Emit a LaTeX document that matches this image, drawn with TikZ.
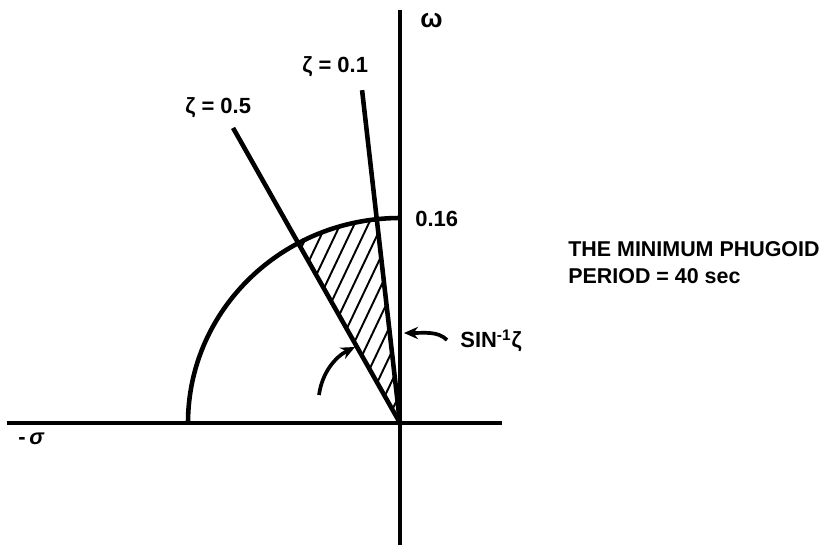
\documentclass[tikz,border=0pt]{standalone}
\usepackage{fontspec}
\setmainfont{Liberation Sans}
\usetikzlibrary{arrows.meta}

\begin{document}
\begin{tikzpicture}[
  x=0.02cm,y=0.02cm,
  font=\bfseries\fontsize{12.5}{15}\selectfont,
  axisline/.style={line width=2pt},
  rayline/.style={line width=2.6pt},
  hatchline/.style={line width=1.1pt},
  pointer/.style={-{Stealth[length=8pt,width=7pt]},line width=2.1pt}
]
  \useasboundingbox (-400,-125) rectangle (428,423);

  % axes
  \coordinate (origin) at (0,0);
  \coordinate (sigmaend) at (-393,0);
  \coordinate (realend) at (102,0);
  \coordinate (omegatop) at (0,413);
  \coordinate (omegabot) at (0,-122);
  \draw[axisline] (sigmaend) -- (realend);
  \draw[axisline] (omegabot) -- (omegatop);

  % damping rays and the circle
  \coordinate (rayhalf) at (119.5:339);
  \coordinate (raytenth) at (96.5:335);
  \coordinate (cuthalf) at (118.7:212 and 205);
  \coordinate (cuttenth) at (96.3:212 and 205);

  \begin{scope}
    \clip (origin) -- (cuthalf) arc[start angle=118.7,end angle=96.3,x radius=212,y radius=205] -- cycle;
    \foreach \x in {-238,-224,...,14}
      \draw[hatchline] (\x,0) -- ++(64.6:260);
  \end{scope}

  \draw[rayline] (origin) -- (rayhalf);
  \draw[rayline] (origin) -- (raytenth);
  \draw[rayline] (-212,0) arc[start angle=180,end angle=90,x radius=212,y radius=205];

  % labels
  \node[anchor=west,inner sep=0pt,font=\bfseries\fontsize{15}{17}\selectfont] (omega) at (20,402) {ω};
  \node[anchor=west,inner sep=0pt] (sigma) at (-382,-16) {-\,\textit{σ}};
  \node[anchor=west,inner sep=0pt] (radius) at (15,204) {0.16};
  \node[anchor=west,inner sep=0pt] (zetahalf) at (-215,315) {ζ = 0.5};
  \node[anchor=west,inner sep=0pt] (zetatenth) at (-98,356) {ζ = 0.1};
  \node[anchor=west,inner sep=0pt] (arcsin) at (60,82) {SIN\textsuperscript{-1}ζ};
  \node[anchor=north west,inner sep=0pt,align=left,font=\bfseries\fontsize{12.2}{15.3}\selectfont] (period) at (168,182)
    {THE MINIMUM PHUGOID\\PERIOD = 40 sec};

  % angle pointers
  \coordinate (arcsintail) at (47,83);
  \coordinate (axishit) at (4,90);
  \coordinate (angletail) at (-81,28);
  \coordinate (rayhit) at (-45,76);
  \draw[pointer] (arcsintail) .. controls (38,92) and (25,90) .. (axishit);
  \draw[pointer] (angletail) .. controls (-78,50) and (-65,66) .. (rayhit);
\end{tikzpicture}
\end{document}
